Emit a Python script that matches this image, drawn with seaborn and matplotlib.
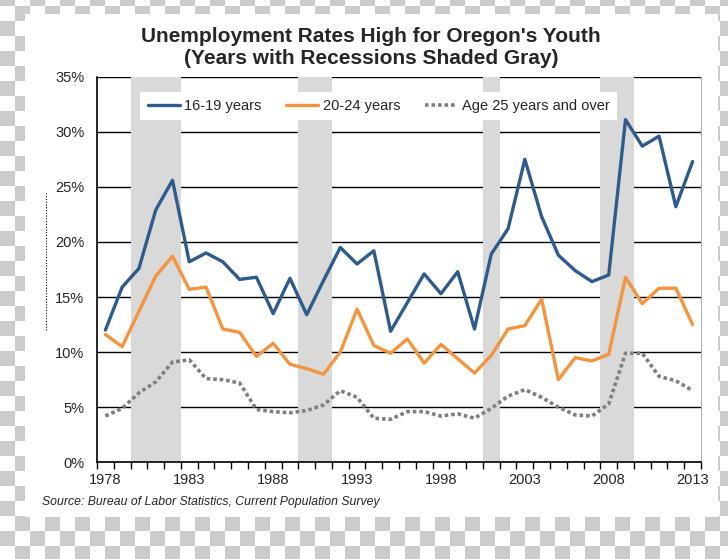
import numpy as np
import pandas as pd
import matplotlib
matplotlib.use("Agg")
import matplotlib.pyplot as plt
from matplotlib.patches import Rectangle
from matplotlib.lines import Line2D
from matplotlib.ticker import FixedLocator, PercentFormatter
import seaborn as sns

# Data
years = list(range(1978, 2014))
teens = [12.0, 15.9, 17.6, 22.9, 25.6, 18.2, 19.0, 18.2, 16.6, 16.8,
         13.5, 16.7, 13.4, 16.5, 19.5, 18.0, 19.2, 11.9, 14.5, 17.1,
         15.3, 17.3, 12.1, 18.9, 21.2, 27.5, 22.3, 18.8, 17.4, 16.4,
         17.0, 31.1, 28.7, 29.6, 23.2, 27.3]
young_adults = [11.6, 10.5, 13.7, 16.9, 18.7, 15.7, 15.9, 12.1, 11.8, 9.6,
                10.8, 8.9, 8.5, 8.0, 10.0, 13.9, 10.6, 9.9, 11.2, 9.0,
                10.7, 9.4, 8.1, 9.7, 12.1, 12.4, 14.8, 7.5, 9.5, 9.2,
                9.8, 16.8, 14.4, 15.8, 15.8, 12.5]
adults = [4.2, 4.9, 6.3, 7.3, 9.1, 9.3, 7.6, 7.5, 7.2, 4.8,
          4.6, 4.5, 4.7, 5.2, 6.5, 5.9, 4.0, 3.9, 4.6, 4.6,
          4.2, 4.4, 4.0, 4.9, 6.0, 6.6, 5.9, 5.0, 4.3, 4.2,
          5.3, 9.9, 9.9, 7.8, 7.4, 6.5]
recession_years = [1980, 1981, 1982, 1990, 1991, 2001, 2008, 2009]
labels = ["16-19 years", "20-24 years", "Age 25 years and over"]
colors = ["#2e5a8c", "#f4943f", "#7f7f7f"]

df = pd.DataFrame({"year": years, labels[0]: teens,
                   labels[1]: young_adults, labels[2]: adults})

sns.set_style("white")
plt.rcParams["font.family"] = ["Liberation Sans", "DejaVu Sans"]

fig = plt.figure(figsize=(7.28, 5.59), dpi=100)

# checkerboard backdrop and white panel
H, W = 559, 728
yy, xx = np.indices((H, W))
checker = ((xx // 15 + (yy + 2) // 15) % 2).astype(float)
bg = np.where(checker[..., None] == 1, 0.80, 1.0) * np.ones((H, W, 3))
fig.figimage(bg[::-1], xo=0, yo=0, zorder=-2)
fig.add_artist(Rectangle((25 / W, 1 - 517 / H), (718 - 25) / W, (517 - 14) / H,
                         transform=fig.transFigure, facecolor="white",
                         edgecolor="none", zorder=-1))
fig.add_artist(Line2D([46 / W, 46 / W], [1 - 330 / H, 1 - 193 / H],
                      transform=fig.transFigure, color="black",
                      linestyle=(0, (1, 1.5)), linewidth=0.8))

ax = fig.add_axes([97 / W, 1 - 462.3 / H, (701 - 97) / W, (462.3 - 76.7) / H])
ax.set_axisbelow(True)

# recession shading
ax.bar(recession_years, 35, width=1.0, color="#d9d9d9", edgecolor="none",
       linewidth=0, zorder=1)

sns.lineplot(data=df, x="year", y=labels[0], ax=ax, color=colors[0],
             linewidth=2.4, label=labels[0], zorder=3)
sns.lineplot(data=df, x="year", y=labels[1], ax=ax, color=colors[1],
             linewidth=2.4, label=labels[1], zorder=3)
sns.lineplot(data=df, x="year", y=labels[2], ax=ax, color=colors[2],
             linewidth=2.6, linestyle=(0, (1, 0.8)), label=labels[2], zorder=3)

ax.set_xlim(1977.5, 2013.5)
ax.set_ylim(0, 35)
ax.set_xlabel("")
ax.set_ylabel("")

ax.yaxis.set_major_locator(FixedLocator(np.arange(0, 36, 5)))
ax.yaxis.set_major_formatter(PercentFormatter(decimals=0))
ax.grid(axis="y", color="black", linewidth=1.0)
ax.grid(axis="x", visible=False)

ax.set_xticks(years[::5])
ax.set_xticklabels([str(y) for y in years[::5]])
ax.xaxis.set_minor_locator(FixedLocator(np.arange(1977.5, 2014, 1.0)))
ax.tick_params(axis="x", which="major", length=0, pad=8, labelsize=10.5)
ax.tick_params(axis="x", which="minor", bottom=True, length=5, width=1,
               color="black", direction="out")
ax.tick_params(axis="y", length=0, pad=9, labelsize=10.5)

for side in ["left", "bottom"]:
    ax.spines[side].set_color("black")
    ax.spines[side].set_linewidth(1.2)
ax.spines["top"].set_visible(False)
ax.spines["right"].set_color("#b0b0b0")
ax.spines["right"].set_linewidth(0.8)

leg = ax.legend(loc="center", bbox_to_anchor=(0.466, 0.924), ncol=3,
                frameon=True, fancybox=False, framealpha=1, edgecolor="none",
                facecolor="white", fontsize=10.5, handlelength=2.2,
                handletextpad=0.3, columnspacing=1.7, borderpad=0.5)
leg.set_zorder(5)

fig.text(371 / W, 1 - 36 / H, "Unemployment Rates High for Oregon's Youth",
         ha="center", va="center", fontsize=15, fontweight="bold")
fig.text(371 / W, 1 - 59 / H, "(Years with Recessions Shaded Gray)",
         ha="center", va="center", fontsize=15, fontweight="bold")
fig.text(42 / W, 1 - 502 / H,
         "Source: Bureau of Labor Statistics, Current Population Survey",
         ha="left", va="center", fontsize=8.8, fontstyle="italic")

fig.savefig("out.png", dpi=100)
